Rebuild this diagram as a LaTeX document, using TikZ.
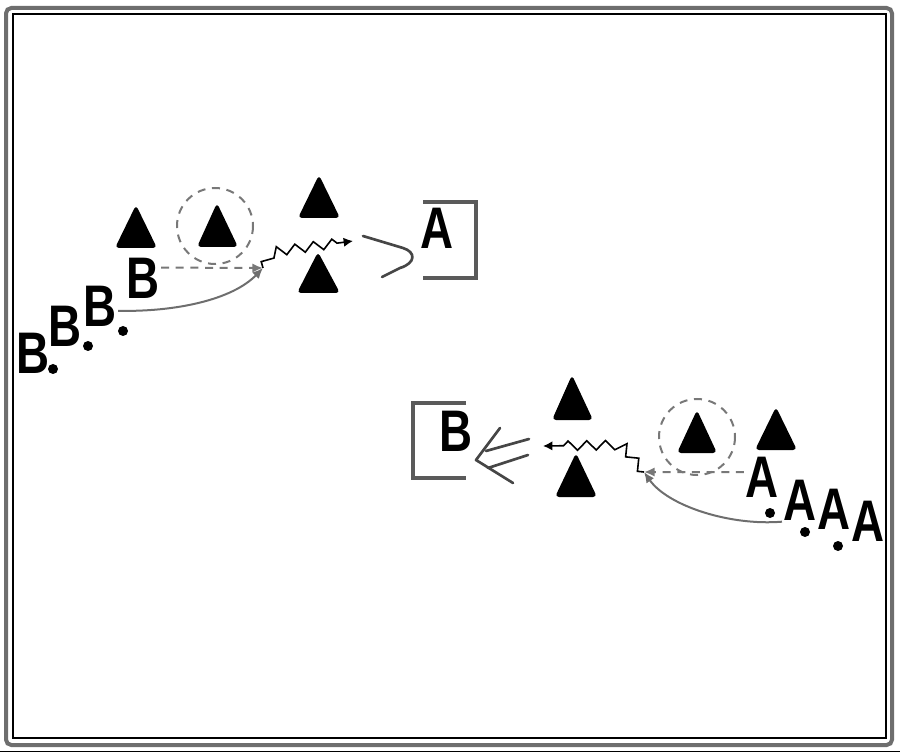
\documentclass[tikz,border=0pt]{standalone}
\usepackage{fontspec}
\setsansfont{Liberation Sans}
\usetikzlibrary{arrows.meta,decorations.pathmorphing}

\tikzset{every picture/.style={line width=0.75pt}}
\tikzset{
  letter/.style={font=\sffamily\bfseries\fontsize{44}{44}\selectfont, inner sep=0.75pt},
  spot/.style={circle, fill=black, inner sep=0pt, minimum size=7.5pt},
  guide/.style={draw={rgb, 255:red, 120; green, 120; blue, 120}, line width=1.5pt, dash pattern=on 6pt off 5pt},
  track/.style={draw={rgb, 255:red, 110; green, 110; blue, 110}, line width=1.5pt, -{Latex[length=8pt,width=7pt]}},
  wave/.style={draw=black, line width=1.2pt, decorate, decoration={zigzag, amplitude=3.5pt, segment length=14pt, post length=12pt}, -{Latex[length=7pt,width=7pt]}},
  fork/.style={draw={rgb, 255:red, 70; green, 70; blue, 70}, line width=2pt, line cap=round, line join=round},
  bracket/.style={draw={rgb, 255:red, 90; green, 90; blue, 90}, line width=2.5pt}
}
\newcommand{\narrow}[1]{\scalebox{0.78}[1]{#1}}

\begin{document}
\begin{tikzpicture}[x=0.75pt,y=0.75pt,yscale=-1,xscale=1]
\useasboundingbox (0,0) rectangle (900,752);

%Frame
\draw [draw={rgb, 255:red, 110; green, 110; blue, 110}, line width=3pt, rounded corners=4pt] (6,8) rectangle (892,745) ;
\draw [line width=1pt] (13,14) rectangle (886,738) ;
\draw (0,751) -- (900,751) ;

% Text Node
\node [letter] (b1) at (33,353) {\narrow{B}};
\node [letter] (b2) at (65,326) {\narrow{B}};
\node [letter] (b3) at (100,306) {\narrow{B}};
\node [letter] (b4) at (143,278) {\narrow{B}};
\node [spot] (db1) at (53,369) {};
\node [spot] (db2) at (88,346) {};
\node [spot] (db3) at (123,331) {};

%Shape: Triangle
\fill [rounded corners=3pt] (115,248) -- (136,205) -- (157,248) -- cycle ;
\fill [rounded corners=3pt] (197,247) -- (217,203) -- (238,247) -- cycle ;
\fill [rounded corners=3pt] (298,218) -- (319,175) -- (340,218) -- cycle ;
\fill [rounded corners=3pt] (297,293) -- (318,252) -- (340,293) -- cycle ;

%Shape: Circle
\draw [guide] (215,226) circle (38) ;

\coordinate (hitU) at (263,268) ;
\coordinate (bendU) at (272,252) ;
\coordinate (tipU) at (353,241) ;
\draw [guide, -{Latex[length=8pt,width=7pt]}] (b4.30) -- (hitU) ;
\draw [track] (b3.-15) .. controls (175,312) and (232,300) .. (hitU) ;
\draw [wave] (hitU) -- (bendU) -- (tipU) ;

%Fork
\draw [fork] (363,236) -- (403,248) .. controls (416,252) and (416,263) .. (400,268) -- (382,277) ;

% Text Node
\node [letter] (boxA) at (437,228) {\narrow{A}};
\draw [bracket] (423,202) -- (476,202) -- (476,278) -- (423,278) ;

% Text Node
\node [letter] (a1) at (762,477) {\narrow{A}};
\node [letter] (a2) at (800,500) {\narrow{A}};
\node [letter] (a3) at (834,509) {\narrow{A}};
\node [letter] (a4) at (868,521) {\narrow{A}};
\node [spot] (da1) at (770,513) {};
\node [spot] (da2) at (805,532) {};
\node [spot] (da3) at (838,546) {};

%Shape: Triangle
\fill [rounded corners=3pt] (552,420) -- (572,375) -- (593,420) -- cycle ;
\fill [rounded corners=3pt] (555,497) -- (576,453) -- (597,497) -- cycle ;
\fill [rounded corners=3pt] (677,453) -- (697,410) -- (717,453) -- cycle ;
\fill [rounded corners=3pt] (755,450) -- (776,407) -- (797,450) -- cycle ;

%Shape: Circle
\draw [guide] (697,437) circle (38) ;

\coordinate (hitL) at (644,472) ;
\coordinate (bendL) at (622,445) ;
\coordinate (tipL) at (543,446) ;
\draw [guide, -{Latex[length=8pt,width=7pt]}] (a1.165) -- (hitL) ;
\draw [track] (a2.south west) .. controls (730,526) and (668,506) .. (hitL) ;
\draw [wave] (hitL) -- (bendL) -- (tipL) ;

%Fork
\draw [fork] (529,439) -- (486,451) ;
\draw [fork] (528,455) -- (488,468) ;
\draw [fork] (500,428) -- (476,460) -- (513,483) ;

% Text Node
\node [letter] (boxB) at (456,431) {\narrow{B}};
\draw [bracket] (466,403) -- (413,403) -- (413,478) -- (466,478) ;

\end{tikzpicture}
\end{document}
